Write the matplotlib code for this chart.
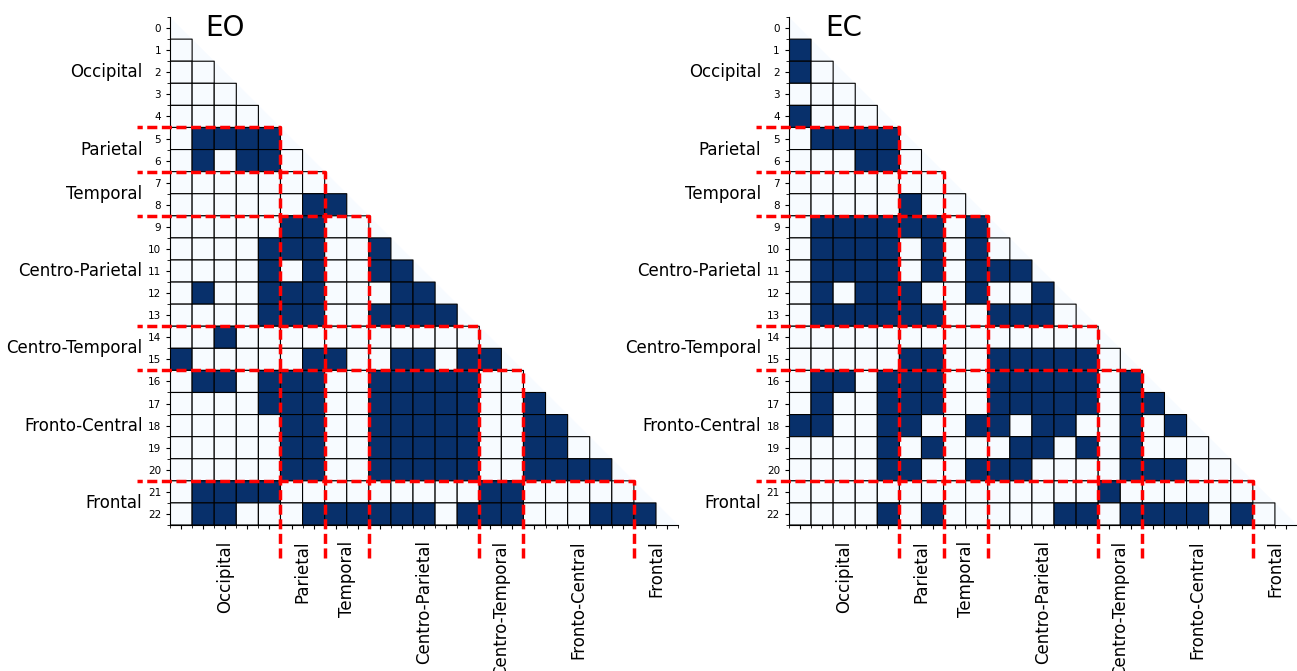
import numpy as np
import matplotlib.pyplot as plt
from matplotlib.patches import Polygon

# brain regions and how many channels each has
regions = ['Occipital', 'Parietal', 'Temporal', 'Centro-Parietal',
           'Centro-Temporal', 'Fronto-Central', 'Frontal']
region_sizes = [5, 2, 2, 5, 2, 5, 2]

# lower triangle (row i has i entries), 1 = significant connection
eo_rows = [
    [],
    [0],
    [0, 0],
    [0, 0, 0],
    [0, 0, 0, 0],
    [0, 1, 1, 1, 1],
    [0, 1, 0, 1, 1, 0],
    [0, 0, 0, 0, 0, 0, 0],
    [0, 0, 0, 0, 0, 0, 1, 1],
    [0, 0, 0, 0, 0, 1, 1, 0, 0],
    [0, 0, 0, 0, 1, 1, 1, 0, 0, 1],
    [0, 0, 0, 0, 1, 0, 1, 0, 0, 1, 1],
    [0, 1, 0, 0, 1, 1, 1, 0, 0, 0, 1, 1],
    [0, 0, 0, 0, 1, 1, 1, 0, 0, 1, 1, 1, 1],
    [0, 0, 1, 0, 0, 0, 0, 0, 0, 0, 0, 0, 0, 0],
    [1, 0, 0, 0, 0, 0, 1, 1, 0, 0, 1, 1, 0, 1, 1],
    [0, 1, 1, 0, 1, 1, 1, 0, 0, 1, 1, 1, 1, 1, 0, 0],
    [0, 0, 0, 0, 1, 1, 1, 0, 0, 1, 1, 1, 1, 1, 0, 0, 1],
    [0, 0, 0, 0, 0, 1, 1, 0, 0, 1, 1, 1, 1, 1, 0, 0, 1, 1],
    [0, 0, 0, 0, 0, 1, 1, 0, 0, 1, 1, 1, 1, 1, 0, 0, 1, 1, 0],
    [0, 0, 0, 0, 0, 1, 1, 0, 0, 1, 1, 1, 1, 1, 0, 0, 1, 1, 1, 1],
    [0, 1, 1, 1, 1, 0, 0, 0, 0, 0, 0, 0, 0, 0, 1, 1, 0, 0, 0, 0, 0],
    [0, 1, 1, 0, 0, 0, 1, 1, 1, 1, 1, 1, 0, 1, 1, 1, 0, 0, 0, 1, 1, 1],
]

ec_rows = [
    [],
    [1],
    [1, 0],
    [0, 0, 0],
    [1, 0, 0, 0],
    [0, 1, 1, 1, 1],
    [0, 0, 0, 1, 1, 0],
    [0, 0, 0, 0, 0, 0, 0],
    [0, 0, 0, 0, 0, 1, 0, 0],
    [0, 1, 1, 1, 1, 1, 1, 0, 1],
    [0, 1, 1, 1, 1, 0, 1, 0, 1, 0],
    [0, 1, 1, 1, 1, 0, 1, 0, 1, 1, 1],
    [0, 1, 0, 1, 1, 1, 0, 0, 1, 0, 0, 1],
    [0, 1, 1, 1, 1, 1, 1, 0, 0, 1, 1, 1, 0],
    [0, 0, 0, 0, 0, 0, 0, 0, 0, 0, 0, 0, 0, 0],
    [0, 0, 0, 0, 0, 1, 1, 0, 0, 1, 1, 1, 1, 1, 0],
    [0, 1, 1, 0, 1, 1, 1, 0, 0, 1, 1, 1, 1, 1, 0, 1],
    [0, 1, 0, 0, 1, 1, 1, 0, 0, 1, 1, 1, 1, 1, 0, 1, 1],
    [1, 1, 0, 0, 1, 1, 0, 0, 1, 1, 0, 1, 1, 0, 0, 1, 0, 1],
    [0, 0, 0, 0, 1, 0, 1, 0, 0, 0, 1, 1, 0, 1, 0, 1, 0, 0, 0],
    [0, 0, 0, 0, 1, 1, 0, 0, 1, 1, 1, 0, 0, 0, 0, 1, 1, 1, 0, 0],
    [0, 0, 0, 0, 0, 0, 0, 0, 0, 0, 0, 0, 0, 0, 1, 0, 0, 0, 0, 0, 0],
    [0, 0, 0, 0, 1, 0, 1, 0, 0, 0, 0, 0, 1, 1, 0, 1, 1, 1, 1, 0, 1, 0],
]

titles = ['EO', 'EC']


def to_matrix(rows):
    n = len(rows)
    m = np.full((n, n), np.nan)
    for i, r in enumerate(rows):
        m[i, :i] = r
    return np.ma.masked_invalid(m)


def draw_panel(ax, rows, title):
    n = len(rows)
    m = to_matrix(rows)
    edges = np.arange(n + 1) - 0.5
    lo = edges[0]
    hi = edges[-1]

    # faint triangle under the matrix
    ax.add_patch(Polygon([[lo, lo], [hi, hi], [lo, hi]], closed=True,
                         facecolor=plt.get_cmap('Blues')(0.0), edgecolor='none', zorder=0))
    ax.pcolor(edges, edges, m, cmap='Blues', vmin=0, vmax=1,
              edgecolors='k', linewidth=0.8, zorder=1)

    ax.set_xlim(lo, hi)
    ax.set_ylim(hi, lo)
    ax.spines['top'].set_visible(False)
    ax.spines['right'].set_visible(False)

    ax.set_yticks(np.arange(n))
    ax.set_yticklabels([str(i) for i in range(n)], fontsize=7.5)
    ax.set_yticks(edges, minor=True)
    ax.set_xticks(np.arange(n))
    ax.set_xticklabels([])
    ax.set_xticks(edges, minor=True)
    ax.tick_params(which='major', length=3)
    ax.tick_params(which='minor', length=2.5)

    # region borders
    bounds = np.cumsum(region_sizes)[:-1] - 0.5
    for b in bounds:
        ax.plot([b, b, -2], [24, b, b], color='red', linestyle='--', dashes=(2.9, 1.3),
                linewidth=2.5, clip_on=False, zorder=3)

    starts = np.cumsum([0] + region_sizes[:-1])
    centers = starts + (np.array(region_sizes) - 1) / 2
    for name, c in zip(regions, centers):
        ax.text(-1.75, c, name, ha='right', va='center', fontsize=12)
        ax.text(c, 23.2, name, ha='center', va='top', rotation=90, fontsize=12)

    ax.text(2, 0, title, ha='center', va='center', fontsize=20)


fig = plt.figure(figsize=(12.97, 6.71), dpi=100)
ax1 = fig.add_axes([0.1311, 0.2176, 0.3917, 0.757])
ax2 = fig.add_axes([0.6083, 0.2176, 0.3917, 0.757])

draw_panel(ax1, eo_rows, titles[0])
draw_panel(ax2, ec_rows, titles[1])

fig.savefig('out.png', dpi=100)
